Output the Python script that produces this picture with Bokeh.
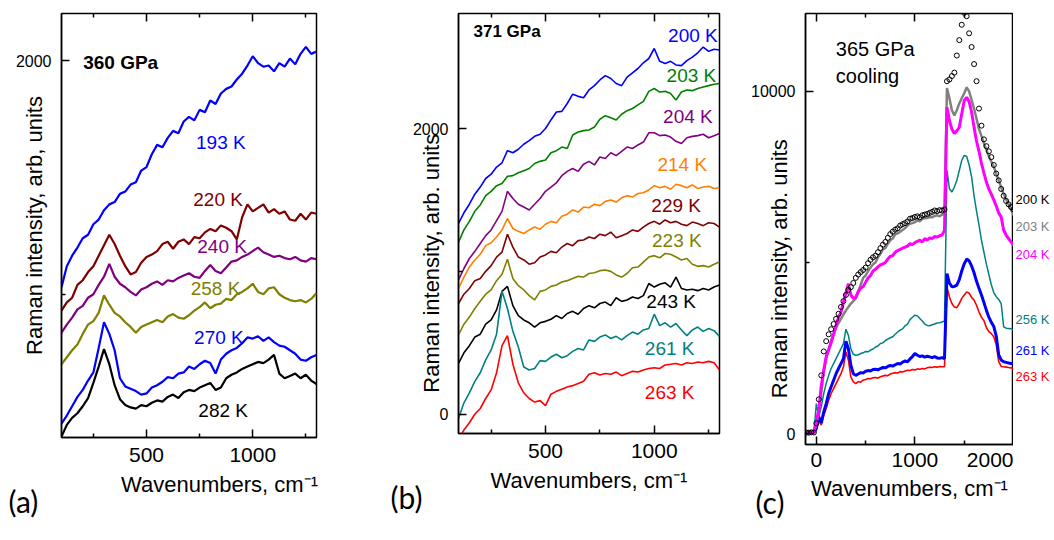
from bokeh.plotting import figure
from bokeh.models import Label, FixedTicker, LinearAxis, Range1d, Title
from bokeh.layouts import row
from bokeh.embed import file_html
from bokeh.resources import INLINE

FONT = "Liberation Sans"
LETTER_FONT = "Lato"

# ---------------- data ----------------
wn_ab = list(range(100, 1301, 25))   # wavenumbers, panels (a) and (b)
wn_c = list(range(-100, 2001, 25))   # wavenumbers, panel (c)

# panel (a) 360 GPa
a_193 = [1030,1120,1165,1200,1240,1255,1300,1320,1360,1385,1395,1430,1440,1470,1480,1530,1545,1600,1640,1630,
         1670,1700,1690,1740,1760,1745,1790,1780,1830,1815,1860,1880,1890,1920,1945,1980,2020,1990,1975,1980,
         1955,1990,1975,2010,1985,2030,2060,2030,2040]
a_220 = [930,965,985,1040,1060,1095,1120,1165,1210,1255,1215,1165,1120,1085,1095,1135,1160,1170,1185,1215,
         1225,1195,1225,1235,1215,1245,1240,1265,1280,1270,1295,1285,1270,1235,1330,1385,1355,1370,1385,1350,
         1365,1345,1355,1320,1315,1345,1320,1350,1345]
a_240 = [835,870,900,935,950,985,1000,1040,1075,1130,1075,1045,1030,1010,995,1020,1030,1045,1055,1040,
         1060,1055,1070,1080,1090,1075,1070,1100,1125,1100,1090,1115,1140,1145,1160,1170,1185,1200,1180,1170,
         1160,1165,1155,1150,1160,1145,1140,1155,1150]
a_258 = [700,730,760,785,830,870,885,920,995,955,920,905,880,860,835,860,870,880,890,880,
         905,915,900,895,910,930,945,965,940,955,960,980,975,1000,1010,1025,1045,1010,1000,1025,
         1030,1000,985,975,970,975,965,980,1005]
a_270 = [445,480,520,560,590,630,665,770,880,830,760,640,605,595,585,570,575,600,610,625,
         645,640,660,665,690,680,700,715,705,660,720,745,760,770,790,815,810,820,800,815,
         795,780,775,760,745,720,715,730,740]
a_282 = [390,440,470,490,520,555,620,690,765,700,610,550,525,515,510,525,520,535,545,540,
         560,570,555,580,590,585,600,610,620,590,600,640,655,665,680,690,700,710,705,720,
         740,660,640,650,660,640,655,630,615]

# panel (b) 371 GPa
b_200 = [1335,1410,1470,1540,1590,1650,1680,1730,1760,1845,1830,1855,1890,1915,1945,1960,2000,2060,2115,2120,
         2175,2240,2225,2215,2270,2300,2340,2370,2350,2315,2300,2360,2390,2420,2460,2490,2560,2470,2455,2470,
         2445,2440,2475,2500,2530,2570,2540,2555,2550]
b_203 = [1205,1290,1350,1420,1465,1530,1560,1600,1615,1665,1670,1690,1705,1720,1755,1770,1780,1830,1845,1870,
         1860,1955,1975,1985,1990,2010,2065,2090,2075,2060,2100,2125,2140,2165,2190,2260,2280,2255,2260,2245,
         2200,2255,2270,2265,2280,2290,2300,2310,2315]
b_204 = [940,1020,1090,1140,1195,1250,1290,1355,1420,1560,1510,1470,1450,1430,1470,1510,1560,1590,1620,1670,
         1700,1720,1700,1750,1770,1745,1800,1790,1830,1810,1840,1870,1860,1885,1905,1970,1970,1950,1955,1940,
         1910,1895,1935,1945,1950,1960,1935,1950,1965]
b_214 = [880,960,1030,1080,1120,1180,1200,1240,1290,1370,1300,1280,1265,1290,1310,1295,1330,1350,1340,1385,
         1400,1430,1415,1450,1445,1470,1460,1490,1500,1485,1515,1530,1520,1545,1550,1570,1600,1585,1595,1575,
         1610,1600,1585,1605,1580,1590,1595,1580,1585]
b_229 = [775,840,880,935,950,1000,1040,1100,1135,1260,1170,1100,1080,1050,1060,1100,1115,1140,1130,1170,
         1195,1180,1215,1220,1240,1230,1260,1250,1275,1235,1250,1265,1290,1280,1310,1335,1350,1330,1360,1340,
         1350,1330,1320,1345,1335,1320,1340,1335,1310]
b_223 = [555,630,680,740,790,840,870,935,980,1085,950,900,870,830,800,860,870,895,905,925,
         935,950,965,960,985,990,1005,1010,1000,975,960,985,1025,1030,1065,1100,1110,1095,1125,1120,
         1100,1080,1090,1050,1035,1040,1030,1050,1065]
b_243 = [355,430,480,540,560,630,660,730,860,895,760,690,660,640,610,640,650,665,690,670,
         705,720,700,740,760,745,775,785,760,815,790,800,820,810,830,915,890,910,920,890,
         960,880,870,875,865,880,870,890,905]
b_261 = [-30,80,150,230,290,380,450,560,860,740,580,470,330,310,320,375,370,400,420,395,
         410,440,460,450,520,510,540,555,530,545,520,550,575,560,590,600,700,620,640,610,
         635,590,550,590,610,580,600,585,545]
b_263 = [-180,-110,-60,0,40,110,170,290,480,550,350,220,150,110,85,95,60,140,160,175,
         190,200,215,230,280,290,275,285,280,295,270,285,300,295,310,320,325,320,345,350,
         355,345,360,355,365,360,370,360,310]

# panel (c) 365 GPa cooling
c_200 = [30,25,35,30,300,1000,1700,2400,2700,2900,
         3050,3200,3350,3500,3700,3870,4050,4200,4280,4400,
         4550,4650,4720,4780,4850,4980,5080,5150,5200,5300,
         5420,5520,5600,5720,5830,5900,5960,6000,6080,6120,
         6150,6200,6280,6300,6330,6350,6320,6380,6400,6420,
         6450,6480,6520,6500,6530,6520,6550,10300,10350,10450,
         10550,11050,11500,11950,12300,12200,11700,11300,10800,10300,
         9500,9000,8600,8400,8250,8080,7850,7600,7400,7150,
         6950,6800,6700,6620,6550]
c_203 = [30,25,35,30,300,650,1200,1800,2200,2450,
         2730,2900,3100,3230,3350,3480,3600,3700,3800,3870,
         3950,4150,4350,4550,4620,4750,4850,4950,5000,5150,
         5250,5380,5420,5550,5650,5700,5820,5850,5900,5950,
         6000,6080,6130,6150,6180,6230,6200,6280,6290,6300,
         6330,6320,6360,6380,6350,6400,6430,10100,9800,9450,
         9300,9450,9650,9800,9950,10120,10000,9750,9500,9200,
         8900,8700,8480,8300,8100,7950,7800,7600,7400,7200,
         7000,6850,6700,6550,6380]
c_204 = [30,25,35,30,350,700,1400,1850,2250,2450,
         2650,2900,3150,3400,3550,3850,4100,4380,4050,3950,
         3980,4150,4250,4300,4420,4550,4620,4750,4800,4870,
         4930,4960,5000,5100,5180,5200,5300,5350,5380,5420,
         5450,5480,5550,5520,5580,5620,5650,5600,5700,5650,
         5720,5700,5760,5740,5780,5800,5940,9540,9150,8900,
         8770,8850,8950,9350,9730,9830,9700,9400,8950,8550,
         8250,7900,7620,7350,7150,7000,6830,6650,6450,6330,
         5950,5800,5700,5600,5500]
c_256 = [30,25,35,30,876,487,780,1170,1460,1700,
         1900,2045,2190,2335,2480,2630,3050,2870,2480,2315,
         2290,2300,2340,2360,2400,2390,2440,2470,2530,2560,
         2630,2650,2720,2760,2800,2830,2900,2970,3020,3060,
         3150,3200,3330,3400,3460,3440,3360,3290,3200,3160,
         3150,3180,3200,3230,3240,3260,3290,7690,7155,7060,
         7205,7400,7690,7985,8130,8100,7850,7500,6950,6500,
         6100,5650,5300,4950,4650,4350,4120,4000,3920,3800,
         3120,3080,3070,3060,3020]
c_261 = [30,25,35,30,145,487,310,630,875,1170,
         1365,1560,1750,1900,2045,2190,2700,2480,1995,1750,
         1700,1740,1780,1770,1820,1840,1830,1870,1880,1860,
         1900,1930,1920,1960,1990,1970,2010,2045,2030,2090,
         2120,2100,2180,2250,2340,2290,2250,2270,2230,2260,
         2240,2220,2250,2210,2200,2220,2190,4675,4400,4290,
         4300,4340,4500,4750,4960,5100,5050,4900,4700,4450,
         4250,4050,3830,3600,3400,3250,3130,2850,2300,2150,
         2100,2080,2060,2050,2045]
c_263 = [30,25,35,30,100,440,245,535,730,975,
         1170,1315,1460,1605,1750,1950,2380,2150,1655,1510,
         1460,1520,1500,1560,1580,1610,1600,1630,1640,1620,
         1660,1680,1700,1690,1740,1760,1780,1770,1810,1800,
         1830,1850,1840,1870,1860,1890,1880,1900,1890,1920,
         1940,1930,1950,1940,1960,1950,1950,4285,3990,3800,
         3700,3680,3800,3950,4050,4140,4100,3980,3900,3750,
         3550,3400,3300,3100,2980,2920,2830,2600,2100,1960,
         1950,1940,1930,1920,1900]

labels_a = ["193 K", "220 K", "240 K", "258 K", "270 K", "282 K"]
labels_b = ["200 K", "203 K", "204 K", "214 K", "229 K", "223 K", "243 K", "261 K", "263 K"]
labels_c = ["200 K", "203 K", "204 K", "256 K", "261 K", "263 K"]

# ---------------- helpers ----------------
def base_fig(fw, fh, bl, br, bt, bb, xr, yr):
    p = figure(frame_width=fw, frame_height=fh, min_border_left=bl, min_border_right=br,
               min_border_top=bt, min_border_bottom=bb, x_range=Range1d(*xr), y_range=Range1d(*yr),
               toolbar_location=None, output_backend="svg", title=None)
    p.xgrid.visible = False
    p.ygrid.visible = False
    p.outline_line_color = "black"
    p.outline_line_width = 1.5
    p.background_fill_color = "white"
    p.border_fill_color = "white"
    return p


def style_axis(ax, ticks, minor, fsize, label, lstandoff, tstandoff=10):
    ax.ticker = FixedTicker(ticks=ticks, minor_ticks=minor)
    ax.major_tick_in = 8
    ax.major_tick_out = 0
    ax.minor_tick_in = 4
    ax.minor_tick_out = 0
    ax.major_tick_line_width = 1.5
    ax.minor_tick_line_width = 1.5
    ax.axis_line_width = 1.5
    ax.major_label_text_font = FONT
    ax.major_label_text_font_size = fsize
    ax.major_label_text_color = "black"
    ax.major_label_standoff = tstandoff
    ax.axis_label = label
    ax.axis_label_text_font = FONT
    ax.axis_label_text_font_size = "22px"
    ax.axis_label_text_font_style = "normal"
    ax.axis_label_text_color = "black"
    ax.axis_label_standoff = lstandoff


def add_top(p, ticks, minor):
    ax = LinearAxis(ticker=FixedTicker(ticks=ticks, minor_ticks=minor),
                    major_tick_in=8, major_tick_out=0, minor_tick_in=4, minor_tick_out=0,
                    major_tick_line_width=1.5, minor_tick_line_width=1.5,
                    major_label_text_font_size="0px", major_label_text_color=None,
                    major_label_standoff=0, axis_line_color=None)
    p.add_layout(ax, "above")


def add_letter(p, text, offset, standoff):
    p.add_layout(Title(text=text, align="left", offset=offset, standoff=standoff,
                       vertical_align="top", text_font=LETTER_FONT, text_font_size="30px",
                       text_font_style="normal", text_color="black"), "below")


def lab(p, x, y, text, color, size, align="left", style="normal", font=FONT, xoff=0):
    p.add_layout(Label(x=x, y=y, text=text, text_color=color, text_font=font,
                       text_font_size=size, text_font_style=style, text_align=align,
                       text_baseline="middle", x_offset=xoff))


NB = "\u00a0"
XLABEL = "Wavenumbers, cm\u207b\u00b9"
XLABEL_A = NB * 10 + XLABEL
YLABEL_A = "Raman intensity, arb, units"
YLABEL_BC = "Raman intensity, arb. units" + NB * 13

# ---------------- panel (a) ----------------
pa = base_fig(255, 424, 61, 52, 6, 110, (100, 1300), (386, 2203))
style_axis(pa.xaxis[0], [500, 1000], [250, 750, 1250], "21px", XLABEL_A, 7)
style_axis(pa.yaxis[0], [0, 2000], [1000], "16px", YLABEL_A, -34)
add_top(pa, [500, 1000], [250, 750, 1250])

cols_a = ["#0000ff", "#800000", "#800080", "#808000", "#0000ff", "#000000"]
for ys, c in zip([a_193, a_220, a_240, a_258, a_270, a_282], cols_a):
    pa.line(wn_ab, ys, line_color=c, line_width=2.2)

lab(pa, 202, 1993, "360 GPa", "black", "19px", style="bold")
pos_a = [(733, 1650), (720, 1407), (739, 1203), (708, 1024), (724, 814), (744, 500)]
for (x, y), t, c in zip(pos_a, labels_a, cols_a):
    lab(pa, x, y, t, c, "19px")
add_letter(pa, "(a)", -53, -34)

# ---------------- panel (b) ----------------
pb = base_fig(261, 420, 90, 29, 10, 110, (100, 1300), (-135, 2805))
style_axis(pb.xaxis[0], [500, 1000], [250, 750, 1250], "21px", XLABEL, 7)
style_axis(pb.yaxis[0], [0, 2000], [1000], "16px", YLABEL_BC, -34)
add_top(pb, [500, 1000], [250, 750, 1250])

cols_b = ["#0000ff", "#008000", "#800080", "#ff8000", "#800000", "#808000", "#000000", "#008080", "#ff0000"]
for ys, c in zip([b_200, b_203, b_204, b_214, b_229, b_223, b_243, b_261, b_263], cols_b):
    pb.line(wn_ab, ys, line_color=c, line_width=1.6)

lab(pb, 169, 2677, "371 GPa", "black", "17px", style="bold")
pos_b = [(1292, 2654), (1285, 2374), (1269, 2082), (1243, 1748), (1215, 1463),
         (1218, 1218), (1192, 787), (1185, 460), (1185, 149)]
for (x, y), t, c in zip(pos_b, labels_b, cols_b):
    lab(pb, x, y, t, c, "19px", align="right")
add_letter(pb, "(b)", -68, -34)

# ---------------- panel (c) ----------------
yr_c = (-321, 12279)
pc = base_fig(208, 431, 57, 0, 13, 96, (-110, 2000), yr_c)
style_axis(pc.xaxis[0], [0, 1000, 2000], [500, 1500], "21px", XLABEL, 6, tstandoff=8)
style_axis(pc.yaxis[0], [0, 10000], [5000], "16px", YLABEL_BC, -44)
add_top(pc, [0, 1000, 2000], [500, 1500])

pc.line(wn_c, c_256, line_color="#008080", line_width=1.5)
pc.line(wn_c, c_263, line_color="#ff0000", line_width=1.6)
pc.line(wn_c, c_261, line_color="#0000ff", line_width=3)
pc.line(wn_c, c_203, line_color="#808080", line_width=2.5)
pc.line(wn_c, c_204, line_color="#ff00ff", line_width=3)
pc.scatter(wn_c, c_200, marker="circle", size=5, line_color="black", line_width=1, fill_color=None)

lab(pc, 197, 11246, "365 GPa", "black", "20px")
lab(pc, 197, 10438, "cooling", "black", "20px")
add_letter(pc, "(c)", -50, -40)

# strip to the right of panel (c) holding the temperature labels
pr = figure(frame_width=41, frame_height=431, min_border_left=0, min_border_right=0,
            min_border_top=13, min_border_bottom=96, x_range=Range1d(0, 41), y_range=Range1d(*yr_c),
            toolbar_location=None, output_backend="svg", title=None,
            x_axis_location=None, y_axis_location=None)
pr.xgrid.visible = False
pr.ygrid.visible = False
pr.outline_line_color = None
pr.border_fill_color = "white"
pr.background_fill_color = "white"
cols_c = ["#000000", "#808080", "#ff00ff", "#008080", "#0000ff", "#ff0000"]
ys_c = [6845, 6056, 5238, 3340, 2415, 1655]
for y, t, c in zip(ys_c, labels_c, cols_c):
    lab(pr, 2, y, t, c, "13px")

layout = row(pa, pb, pc, pr)
open("out.html", "w").write(file_html(layout, INLINE))
